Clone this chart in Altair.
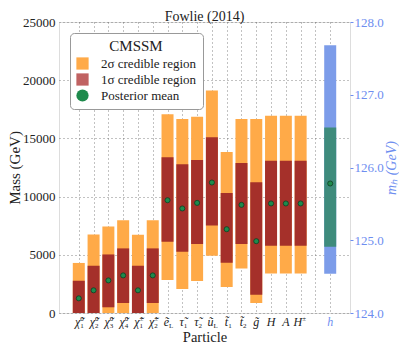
import altair as alt
import pandas as pd

# ---------------- data ----------------
chart_title = ["Fowlie (2014)"]
# tick labels: base symbol, superscript and subscript (one entry per x slot 1..18)
base_labels = ["χ\u0303", "χ\u0303", "χ\u0303", "χ\u0303", "χ\u0303", "χ\u0303",
               "e\u0303", "τ\u0303", "τ\u0303", "u\u0303", "t\u0303", "t\u0303", "g\u0303",
               "H", "A", "H", "", "h"]
sup_labels = ["0", "0", "0", "0", "±", "±", "", "", "", "", "", "", "", "", "", "±", "", ""]
sub_labels = ["1", "2", "3", "4", "1", "2", "L", "1", "2", "L", "1", "2", "", "", "", "", "", ""]

lo2 = [0, 0, 0, 0, 0, 0, 2830, 2060, 2740, 4920, 2230, 3830, 860, 3400, 3400, 3400]
hi2 = [4300, 6750, 7430, 7975, 6720, 7975, 17070, 16660, 16870, 19120, 13840, 16660, 16660, 16950, 16950, 16950]
lo1 = [0, 0, 490, 860, 0, 860, 6115, 5260, 5920, 7520, 4310, 5920, 1570, 5770, 5770, 5770]
hi1 = [2770, 4060, 5030, 5550, 4060, 5550, 13380, 12780, 13150, 15090, 10320, 12890, 11230, 13090, 13090, 13090]
mean = [1260, 1950, 2800, 3230, 1950, 3230, 9690, 8980, 9460, 11210, 7200, 9290, 6170, 9410, 9410, 9410]

h_lo2, h_lo1, h_hi1, h_hi2, h_mean = [124.54], [124.91], [126.55], [127.68], [125.78]

legend_entries = ["2σ credible region", "1σ credible region", "Posterior mean"]

# ---------------- styling ----------------
FONT = "Liberation Serif"
ORANGE = "#ffaa48"
RED = "#a5302a"
ROSY = "#c06262"
TEAL = "#3e8b7c"
BLUE = "#7c9ce9"
AXBLUE = "#6e8ef0"
GREEN = "#1e8a4c"
DKGREEN = "#0f3d22"
TXT = "#222"
W = H = 291

n_part = len(lo2)
n_slots = len(base_labels)

df = pd.DataFrame({"pos": list(range(1, n_part + 1)),
                   "lo2": lo2, "hi2": hi2, "lo1": lo1, "hi1": hi1, "mean": mean})
dh = pd.DataFrame({"pos": [n_slots], "lo2": h_lo2, "hi2": h_hi2,
                   "lo1": h_lo1, "hi1": h_hi1, "mean": h_mean})
dleg = pd.DataFrame({"entry": legend_entries, "pos": [-10] * 3, "v": [-10000] * 3})
dlab = pd.DataFrame({"pos": list(range(1, n_slots + 1)), "base": base_labels,
                     "sup": sup_labels, "sub": sub_labels})
dlab["scripted"] = (dlab["sup"] != "") | (dlab["sub"] != "")
dlab["col"] = [AXBLUE if b == "h" else TXT for b in base_labels]
dtitle = pd.DataFrame({"t": chart_title})

xenc = alt.X(
    "pos:Q",
    scale=alt.Scale(domain=[0, n_slots + 1], nice=False, zero=False),
    axis=alt.Axis(values=list(range(1, n_slots + 1)), labels=False,
                  title="Particle", grid=True, gridDash=[1, 3], gridColor="#666",
                  gridWidth=0.8, ticks=False, domain=False,
                  titleFont=FONT, titleFontSize=14.5, titleFontWeight="normal",
                  titleColor=TXT, titlePadding=17),
)

yscale_l = alt.Scale(domain=[0, 25000], nice=False, zero=False)
yaxis_l = alt.Axis(values=[0, 5000, 10000, 15000, 20000, 25000], format="d",
                   title="Mass (GeV)", grid=True, gridDash=[1, 3], gridColor="#666",
                   gridWidth=0.8, ticks=False, domain=False, labelPadding=4,
                   labelFont=FONT, labelFontSize=13, labelColor=TXT, labelFlush=False,
                   titleFont=FONT, titleFontSize=15, titleFontWeight="normal",
                   titleColor=TXT, titlePadding=0)

bars2 = alt.Chart(df).mark_bar(size=12, color=ORANGE).encode(
    x=xenc, y=alt.Y("lo2:Q", scale=yscale_l, axis=yaxis_l), y2="hi2:Q")
bars1 = alt.Chart(df).mark_bar(size=12, color=RED).encode(
    x=xenc, y=alt.Y("lo1:Q", scale=yscale_l), y2="hi1:Q")
means = alt.Chart(df).mark_circle(size=26, fill=GREEN, stroke=DKGREEN, strokeWidth=0.8,
                                  opacity=1).encode(
    x=xenc, y=alt.Y("mean:Q", scale=yscale_l))

legend = alt.Legend(title="CMSSM", orient="none", legendX=11, legendY=11, padding=6,
                    strokeColor="#999", fillColor="white", cornerRadius=4,
                    titleFont=FONT, titleFontSize=15, titleFontWeight="normal",
                    titleAnchor="middle", titleColor=TXT, titlePadding=3,
                    labelFont=FONT, labelFontSize=13, labelColor=TXT,
                    rowPadding=2, labelOffset=12, symbolStrokeWidth=0)

leg = alt.Chart(dleg).mark_point(filled=True, clip=True, opacity=1).encode(
    x=xenc,
    y=alt.Y("v:Q", scale=yscale_l),
    color=alt.Color("entry:N", scale=alt.Scale(domain=legend_entries, range=[ORANGE, ROSY, GREEN]),
                    legend=legend, sort=legend_entries),
    shape=alt.Shape("entry:N", scale=alt.Scale(domain=legend_entries, range=["square", "square", "circle"]),
                    legend=legend, sort=legend_entries),
    size=alt.Size("entry:O", scale=alt.Scale(domain=legend_entries, range=[150, 150, 22]),
                  legend=legend, sort=legend_entries),
)

# tick labels drawn as text so that super/subscripts can stack
lab_script_base = alt.Chart(dlab).transform_filter("datum.scripted").mark_text(
    font=FONT, fontSize=12, fontStyle="italic", align="right", baseline="alphabetic",
    dx=1.5, color=TXT).encode(x=xenc, y=alt.value(H + 13), text="base:N")
lab_plain_base = alt.Chart(dlab).transform_filter("!datum.scripted").mark_text(
    font=FONT, fontSize=12, fontStyle="italic", align="center", baseline="alphabetic").encode(
    x=xenc, y=alt.value(H + 13), text="base:N", color=alt.Color("col:N", scale=None))
lab_sup = alt.Chart(dlab).mark_text(
    font=FONT, fontSize=7, align="left", baseline="alphabetic", dx=1.5, color=TXT).encode(
    x=xenc, y=alt.value(H + 8), text="sup:N")
lab_sub = alt.Chart(dlab).mark_text(
    font=FONT, fontSize=7, align="left", baseline="alphabetic", dx=1.5, color=TXT).encode(
    x=xenc, y=alt.value(H + 15), text="sub:N")

title_txt = alt.Chart(dtitle).mark_text(
    font=FONT, fontSize=14, align="center", baseline="alphabetic", color=TXT).encode(
    x=alt.value(W / 2), y=alt.value(-1.5), text="t:N")

left = alt.layer(bars2, bars1, means, leg, lab_script_base, lab_plain_base, lab_sup, lab_sub,
                 title_txt)

yscale_r = alt.Scale(domain=[124, 128], nice=False, zero=False)
yaxis_r = alt.Axis(orient="right", values=[124, 124.5, 125, 125.5, 126, 126.5, 127, 127.5, 128],
                   format=".1f", grid=False, domain=False, tickSize=3, tickColor=AXBLUE,
                   labelPadding=1, labelFont=FONT, labelFontSize=13, labelColor=AXBLUE,
                   labelFlush=False, title="mₕ (GeV)", titleAngle=270, titleBaseline="top",
                   titleFont=FONT, titleFontSize=14, titleFontWeight="normal",
                   titleFontStyle="italic", titleColor=AXBLUE, titlePadding=1)

hb2 = alt.Chart(dh).mark_bar(size=12, color=BLUE).encode(
    x=xenc, y=alt.Y("lo2:Q", scale=yscale_r, axis=yaxis_r), y2="hi2:Q")
hb1 = alt.Chart(dh).mark_bar(size=12, color=TEAL).encode(
    x=xenc, y=alt.Y("lo1:Q", scale=yscale_r), y2="hi1:Q")
hm = alt.Chart(dh).mark_circle(size=26, fill=GREEN, stroke=DKGREEN, strokeWidth=0.8,
                               opacity=1).encode(
    x=xenc, y=alt.Y("mean:Q", scale=yscale_r))

right = alt.layer(hb2, hb1, hm)

chart = alt.layer(left, right).resolve_scale(y="independent").properties(
    width=W, height=H,
    autosize=alt.AutoSizeParams(type="none"),
    padding={"left": 51, "top": 14, "right": 49, "bottom": 32},
).configure_view(stroke="#333", strokeWidth=1).configure(background="white")

chart.save("out.html", embed_options={"renderer": "svg", "actions": False})
